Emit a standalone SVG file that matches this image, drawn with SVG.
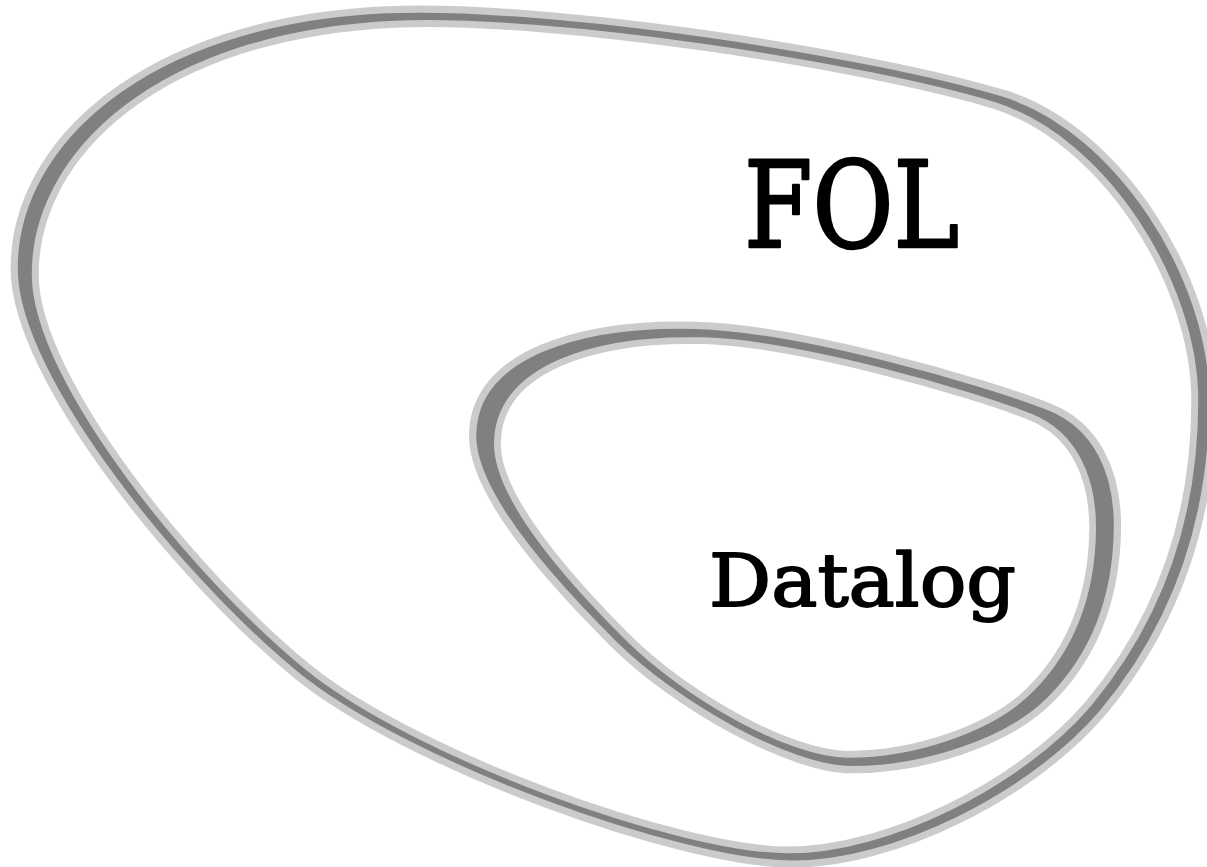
<svg xmlns="http://www.w3.org/2000/svg" xmlns:xlink="http://www.w3.org/1999/xlink" width="1207" height="867" viewBox="0 0 1207 867">
  <style>
    .band { fill: #808080; stroke: #cbcbcb; stroke-width: 7; stroke-linejoin: round; }
    .hole { fill: #ffffff; stroke: #cbcbcb; stroke-width: 7; stroke-linejoin: round; }
    .label { font-family: "DejaVu Serif", "Liberation Serif", serif; fill: #000000; stroke: #000000; stroke-linejoin: round; }
  </style>
  <defs>
    <!-- centre line of the outer set boundary -->
    <path id="outerLine" d="M24,272 C23,150 150,28 390,17 C550,10 870,60 1000,100 C1110,135 1203,280 1203,400 C1203,530 1160,630 1095,708 C1025,790 890,857 790,857 C680,857 410,760 300,670 C190,580 24,380 24,272 Z"/>
    <!-- centre line of the inner set boundary -->
    <path id="innerLine" d="M485,440 C485,360 590,330 700,333 C800,336 980,388 1040,412 C1085,430 1106,475 1105,530 C1104,600 1080,655 1040,695 C1000,735 920,762 850,762 C790,762 680,700 620,640 C570,590 485,500 485,440 Z"/>
  </defs>

  <!-- outer set: FOL -->
  <g id="fol">
    <use xlink:href="#outerLine" class="band" transform="translate(615 440) scale(1.0165 1.017) translate(-615 -440)"/>
    <use xlink:href="#outerLine" class="hole" transform="translate(616.5 440) scale(0.9835 0.983) translate(-615 -440)"/>
    <text class="label" x="744" y="247" font-size="119" stroke-width="2.5" textLength="215" lengthAdjust="spacingAndGlyphs">FOL</text>
  </g>

  <!-- inner set: Datalog -->
  <g id="datalog">
    <use xlink:href="#innerLine" class="band" transform="translate(795 548) scale(1.04 1.036) translate(-795 -548)"/>
    <use xlink:href="#innerLine" class="hole" transform="translate(795 548) scale(0.96 0.964) translate(-795 -548)"/>
    <text class="label" x="709" y="606" font-size="73" stroke-width="1.8" textLength="307" lengthAdjust="spacingAndGlyphs">Datalog</text>
  </g>
</svg>
